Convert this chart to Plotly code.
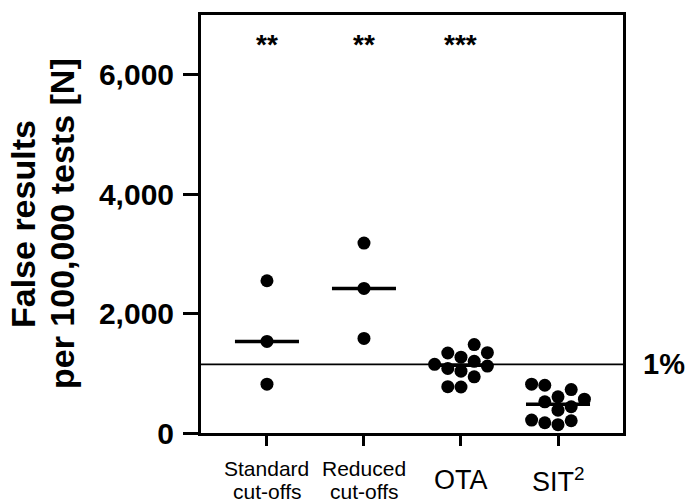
import numpy as np
import plotly.graph_objects as go

# ---------------- data ----------------
category_line1 = ["Standard", "Reduced", "OTA", "SIT<sup>2</sup>"]
category_line2 = ["cut-offs", "cut-offs", "", ""]
standard = [2550, 1533, 817]
reduced = [3180, 2421, 1583]
ota = [1480, 1345, 1340, 1270, 1200, 1150, 1120, 1080, 1035, 940, 775, 770]
sit2 = [817, 800, 728, 605, 567, 522, 440, 383, 217, 205, 172, 140]
one_percent = 1150
significance = ["**", "**", "***", ""]
y_ticks = [0, 2000, 4000, 6000]
y_title = ["False results", "per 100,000 tests [N]"]

groups = [standard, reduced, ota, sit2]

# ---------------- layout constants ----------------
W, H = 686, 502
ML, MR, MT, MB = 201, 63, 13, 69
XR = [-0.68, 3.67]
YR = [0, 7000]
FONT = "Liberation Sans, Arial, sans-serif"
DOT = 13

px_per_cat = (W - ML - MR) / (XR[1] - XR[0])
px_per_val = (H - MT - MB) / (YR[1] - YR[0])


def beeswarm(values, step=13.2, min_dist=13.0):
    vals = np.asarray(values, dtype=float)
    order = np.argsort(vals, kind="stable")
    placed = []
    offsets = np.zeros(len(vals))
    cands = [0]
    for s in range(1, 10):
        cands += [-s, s]
    for i in order:
        y = vals[i] * px_per_val

        def ok(c):
            return all(((c - pc) * step) ** 2 + (y - py) ** 2 >= min_dist ** 2
                       for pc, py in placed)
        chosen = None
        for c in cands:
            if ok(c):
                chosen = c
                if c != 0 and ok(-c):
                    left = sum(1 for pc, _ in placed if pc < 0)
                    right = sum(1 for pc, _ in placed if pc > 0)
                    chosen = abs(c) if left > right else -abs(c)
                break
        placed.append((chosen, y))
        offsets[i] = chosen * step / px_per_cat
    return offsets


fig = go.Figure()
half = 0.33
for gi, vals in enumerate(groups):
    med = float(np.median(vals))
    fig.add_trace(go.Scatter(x=[gi - half, gi + half], y=[med, med], mode="lines",
                             line=dict(color="black", width=3.5), showlegend=False,
                             hoverinfo="skip"))
    offs = beeswarm(vals)
    fig.add_trace(go.Scatter(x=gi + offs, y=vals, mode="markers",
                             marker=dict(color="black", size=DOT, line=dict(width=0)),
                             showlegend=False))

# 1% reference line
fig.add_shape(type="line", xref="paper", yref="y", x0=0, x1=1, y0=one_percent, y1=one_percent,
              line=dict(color="black", width=1.8), layer="below")
fig.add_annotation(text="<b>1%</b>", xref="paper", yref="y", x=1, y=one_percent,
                   xanchor="left", yanchor="middle", xshift=18, showarrow=False,
                   font=dict(family=FONT, size=29, color="black"))

# significance stars
for gi, s in enumerate(significance):
    if s:
        fig.add_annotation(text="<b>" + s + "</b>", x=gi, y=6500, xref="x", yref="y",
                           showarrow=False, font=dict(family=FONT, size=28, color="black"))

# category labels
for gi in range(len(groups)):
    if category_line2[gi]:
        fig.add_annotation(text=category_line1[gi], x=gi, y=0, xref="x", yref="paper",
                           yanchor="middle", yshift=-35, showarrow=False,
                           font=dict(family=FONT, size=21, color="black"))
        fig.add_annotation(text=category_line2[gi], x=gi, y=0, xref="x", yref="paper",
                           yanchor="middle", yshift=-58, showarrow=False,
                           font=dict(family=FONT, size=21, color="black"))
    else:
        fig.add_annotation(text=category_line1[gi], x=gi, y=0, xref="x", yref="paper",
                           yanchor="middle", yshift=-47, showarrow=False,
                           font=dict(family=FONT, size=27, color="black"))

# y-axis title (two lines)
for li, (txt, xs) in enumerate(zip(y_title, [-178, -139])):
    fig.add_annotation(text="<b>" + txt + "</b>", x=0, y=0.5, xref="paper", yref="paper",
                       xanchor="center", yanchor="middle", xshift=xs, textangle=-90,
                       showarrow=False, font=dict(family=FONT, size=34, color="black"))

fig.update_layout(
    width=W, height=H,
    margin=dict(l=ML, r=MR, t=MT, b=MB),
    paper_bgcolor="white", plot_bgcolor="white",
    showlegend=False,
    xaxis=dict(range=XR, tickvals=list(range(len(groups))),
               showticklabels=False, ticks="outside", ticklen=10, tickwidth=3,
               tickcolor="black", showline=True, linewidth=3, linecolor="black",
               mirror=True, showgrid=False, zeroline=False),
    yaxis=dict(range=YR, tickvals=y_ticks, tickformat=",d", ticks="outside", ticklen=15,
               tickwidth=3, tickcolor="black", showline=True, linewidth=3,
               linecolor="black", mirror=True, showgrid=False, zeroline=False,
               ticklabelstandoff=3,
               tickfont=dict(family=FONT, size=30, color="black", weight="bold")),
)

fig.write_html("out.html", config={"displayModeBar": False},
               post_script="document.body.style.margin='0';document.body.style.overflow='hidden';")
